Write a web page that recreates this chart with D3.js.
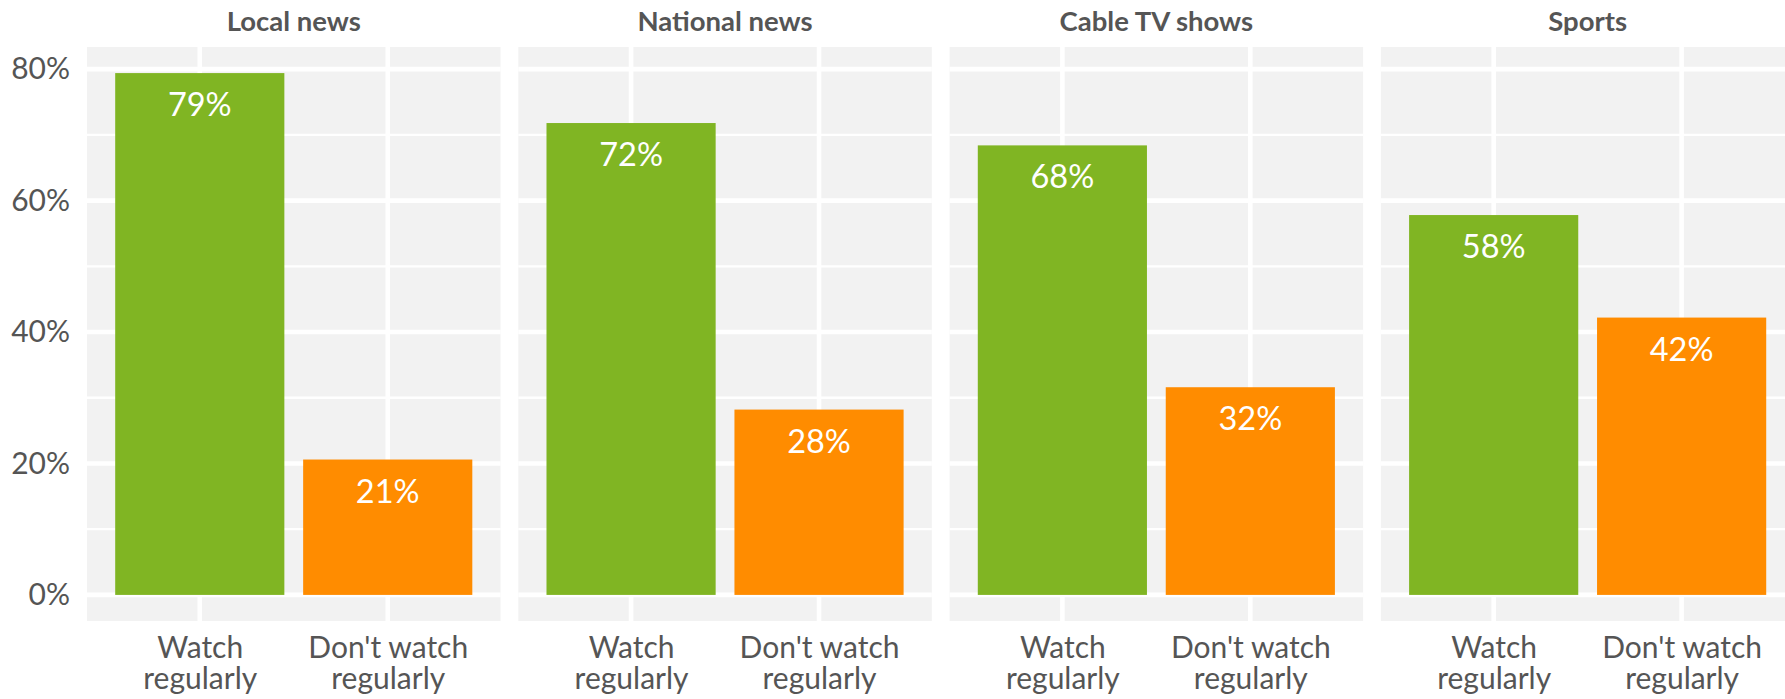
<!DOCTYPE html>
<html>
<head>
<meta charset="utf-8">
<script src="https://cdn.jsdelivr.net/npm/d3@7"></script>
<style>
  html, body { margin: 0; padding: 0; background: #ffffff; }
  svg { display: block; }
</style>
</head>
<body>
<svg id="chart" width="1785" height="699"></svg>
<script>
// ---- data ----
const facets = ["Local news", "National news", "Cable TV shows", "Sports"];
const categories = ["Watch regularly", "Don't watch regularly"];
const categoryLines = [["Watch", "regularly"], ["Don't watch", "regularly"]];
const watchValues = [79.4, 71.8, 68.4, 57.8];
const dontWatchValues = [20.6, 28.2, 31.6, 42.2];
const yTickValues = [0, 20, 40, 60, 80];
const yMinorValues = [10, 30, 50, 70];
const barColors = ["#80b523", "#ff8c00"];

// ---- layout ----
const panelTop = 47, panelBottom = 621;
const firstPanelLeft = 87, panelW = 413.5, panelGap = 17.8;

const svg = d3.select("#chart");
const allVals = watchValues.concat(dontWatchValues);
const maxV = d3.max(allVals);
const expand = 0.05 * maxV;
const y = d3.scaleLinear().domain([-expand, maxV + expand]).range([panelBottom, panelTop]);

const x = d3.scalePoint().domain(categories).range([0, panelW]).padding(0.6);
const step = x.step();
const barW = 0.9 * step;

const textColor = "#555555";
const fontFam = "Lato, 'Open Sans', sans-serif";

facets.forEach((f, i) => {
  const left = firstPanelLeft + i * (panelW + panelGap);
  const g = svg.append("g").attr("transform", `translate(${left},0)`);
  g.append("rect").attr("x", 0).attr("y", panelTop).attr("width", panelW)
    .attr("height", panelBottom - panelTop).attr("fill", "#f2f2f2");
  g.selectAll(".minor").data(yMinorValues).join("line")
    .attr("x1", 0).attr("x2", panelW)
    .attr("y1", d => y(d)).attr("y2", d => y(d))
    .attr("stroke", "#ffffff").attr("stroke-width", 2.3);
  g.selectAll(".major").data(yTickValues).join("line")
    .attr("x1", 0).attr("x2", panelW)
    .attr("y1", d => y(d)).attr("y2", d => y(d))
    .attr("stroke", "#ffffff").attr("stroke-width", 4.6);
  g.selectAll(".vmajor").data(categories).join("line")
    .attr("x1", d => x(d)).attr("x2", d => x(d))
    .attr("y1", panelTop).attr("y2", panelBottom)
    .attr("stroke", "#ffffff").attr("stroke-width", 4.6);

  const vals = [watchValues[i], dontWatchValues[i]];
  const data = categories.map((c, j) => ({ c, v: vals[j], color: barColors[j] }));
  g.selectAll(".bar").data(data).join("rect")
    .attr("x", d => x(d.c) - barW / 2)
    .attr("width", barW)
    .attr("y", d => y(d.v))
    .attr("height", d => y(0) - y(d.v))
    .attr("fill", d => d.color);
  g.selectAll(".lbl").data(data).join("text")
    .attr("x", d => x(d.c))
    .attr("y", d => y(d.v) + 43)
    .attr("text-anchor", "middle")
    .attr("font-family", fontFam)
    .attr("font-weight", 400)
    .attr("font-size", 32.5)
    .attr("fill", "#ffffff")
    .text(d => Math.round(d.v) + "%");

  g.append("text")
    .attr("x", panelW / 2).attr("y", 31)
    .attr("text-anchor", "middle")
    .attr("font-family", fontFam)
    .attr("font-weight", 700)
    .attr("font-size", 27.5)
    .attr("fill", textColor)
    .text(f);

  const xa = g.append("g").attr("transform", `translate(0,${panelBottom})`)
    .call(d3.axisBottom(x).tickSize(0).tickFormat(""));
  xa.select(".domain").remove();
  xa.selectAll(".tick").each(function(d, j) {
    const t = d3.select(this).append("text")
      .attr("text-anchor", "middle")
      .attr("font-family", fontFam)
      .attr("font-size", 30)
      .attr("fill", textColor);
    categoryLines[j].forEach((line, k) => {
      t.append("tspan").attr("x", 0).attr("y", 37 + k * 30.5).text(line);
    });
  });
});

const ya = svg.append("g").attr("transform", `translate(${firstPanelLeft},0)`)
  .call(d3.axisLeft(y).tickValues(yTickValues).tickSize(0).tickPadding(17).tickFormat(d => d + "%"));
ya.select(".domain").remove();
ya.selectAll("text")
  .attr("font-family", fontFam)
  .attr("font-size", 30)
  .attr("fill", textColor);
</script>
</body>
</html>
